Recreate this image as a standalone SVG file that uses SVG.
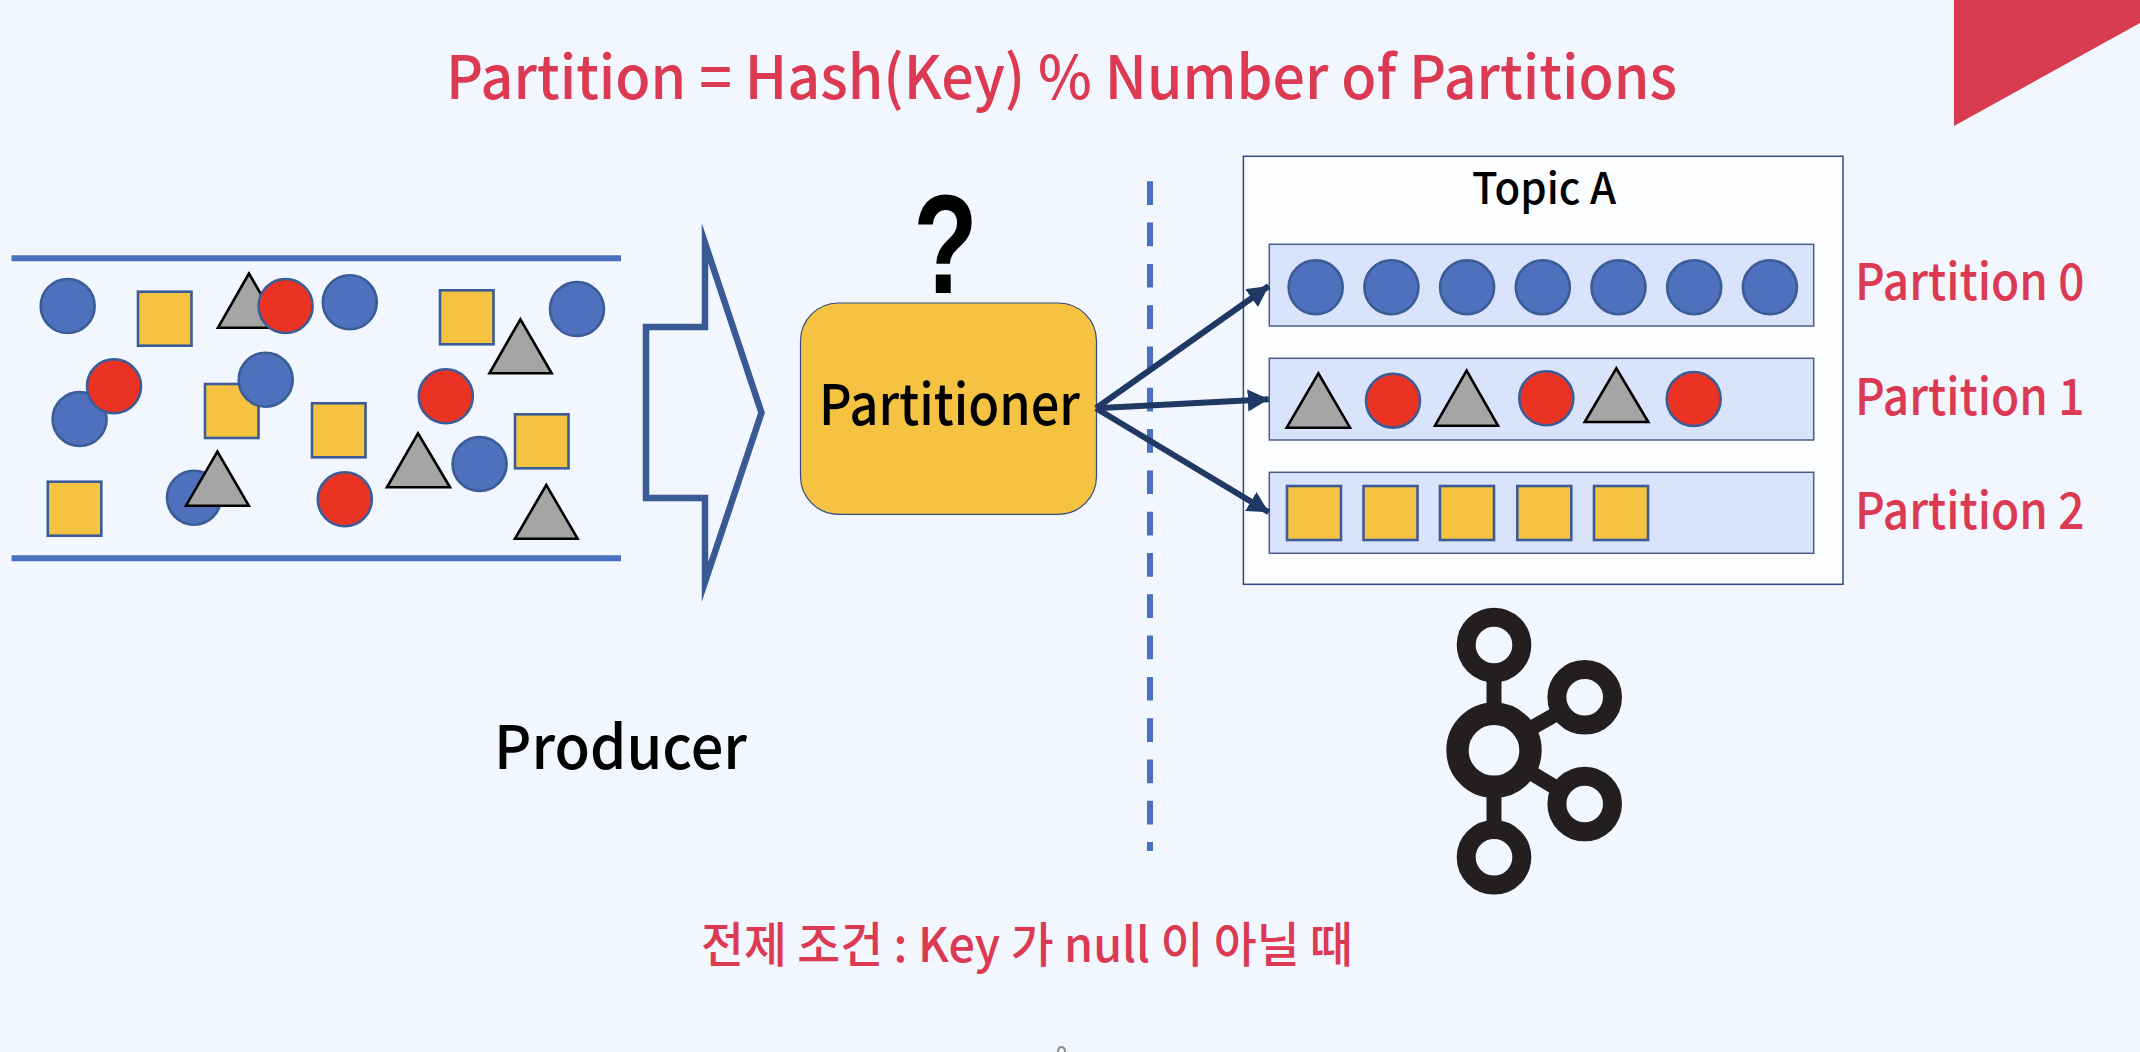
<svg xmlns="http://www.w3.org/2000/svg" width="2140" height="1052" viewBox="0 0 2140 1052">
<defs>
<style>
text{font-family:"Noto Sans CJK KR","Noto Sans",sans-serif;font-weight:500}
.b{fill:#4f70bc;stroke:#3c5c98;stroke-width:2.6}
.r{fill:#ea3323;stroke:#3c5c98;stroke-width:2.6}
.y{fill:#f5c242;stroke:#3c5c98;stroke-width:2.6}
.g{fill:#a5a5a5;stroke:#000;stroke-width:2.6}
.pt{fill:#dc3a52;font-size:50px}
.ring{fill:none;stroke:#231f20}
.lane{fill:#d9e3fb;stroke:#4a5c88;stroke-width:1.5}
.bar{stroke:#4a70c0;stroke-width:6}
.arr{stroke:#1f3864;stroke-width:6;fill:none;marker-end:url(#h)}
</style>
<marker id="h" markerUnits="userSpaceOnUse" markerWidth="24" markerHeight="24" refX="21" refY="11" orient="auto"><path d="M0 0L21 11L0 22z" fill="#1f3864"/></marker>
</defs>
<rect width="2140" height="1052" fill="#f2f6ff"/>
<polygon id="corner" points="1954,0 2140,0 2140,23 1954,126" fill="#d93b50"/>
<text id="title" x="446" y="99" fill="#dc3a52" font-size="60" textLength="1231" lengthAdjust="spacingAndGlyphs">Partition = Hash(Key) % Number of Partitions</text>
<g id="stream">
<line class="bar" x1="11.5" y1="258.3" x2="621" y2="258.3"/>
<line class="bar" x1="11.5" y1="558.3" x2="621" y2="558.3"/>
<circle class="b" cx="67.7" cy="306" r="27"/>
<rect class="y" x="138" y="291.7" width="53.5" height="54"/>
<polygon class="g" points="249,273.5 218,327.7 280,327.7"/>
<circle class="r" cx="285.6" cy="306" r="27"/>
<circle class="b" cx="349.8" cy="302.3" r="27"/>
<rect class="y" x="440" y="290.3" width="53.5" height="54"/>
<circle class="b" cx="577" cy="309" r="27"/>
<polygon class="g" points="520.4,319.3 489.5,373.3 551.7,373.3"/>
<circle class="b" cx="79.6" cy="419" r="27"/>
<circle class="r" cx="114" cy="386.3" r="27"/>
<rect class="y" x="205" y="384" width="53.5" height="54"/>
<circle class="b" cx="265.7" cy="379.7" r="27"/>
<rect class="y" x="312" y="403.3" width="53.5" height="54"/>
<circle class="r" cx="445.8" cy="396.3" r="27"/>
<polygon class="g" points="418,433.3 387,487.3 450,487.3"/>
<circle class="b" cx="479.6" cy="464" r="27"/>
<rect class="y" x="515" y="414.3" width="53.5" height="54"/>
<rect class="y" x="47.8" y="481.7" width="53.5" height="54"/>
<circle class="b" cx="194" cy="497.7" r="27"/>
<polygon class="g" points="217.4,451.7 186,505.7 248.8,505.7"/>
<circle class="r" cx="344.8" cy="499.3" r="27"/>
<polygon class="g" points="546.3,485 515,538.7 577.6,538.7"/>
</g>
<g id="producer-arrow"><polygon points="646,327 705,327 705,243 761.5,412.7 705,582 705,498 646,498" fill="none" stroke="#3a5a94" stroke-width="6.5" stroke-miterlimit="12"/></g>
<g id="producer"><text x="494" y="769" fill="#000" font-size="60" textLength="253" lengthAdjust="spacingAndGlyphs">Producer</text></g>
<g id="question"><text transform="translate(945.5 292.7) scale(.8 1.07)" text-anchor="middle" fill="#000" font-size="132" style="font-family:'Liberation Sans',sans-serif;font-weight:700">?</text></g>
<g id="partitioner">
<rect x="800.5" y="303" width="296" height="211.3" rx="38" fill="#f5c242" stroke="#2f4a80" stroke-width="1.2"/>
<text x="819" y="425" fill="#000" font-size="56" textLength="261" lengthAdjust="spacingAndGlyphs">Partitioner</text>
</g>
<g id="divider"><line x1="1150" y1="181.3" x2="1150" y2="851" stroke="#4a70c0" stroke-width="6" stroke-dasharray="23.7 17.6"/></g>
<g id="topic-a">
<rect x="1243.4" y="156.3" width="599.6" height="428" fill="#fcfdff" stroke="#2f4a80" stroke-width="1.5"/>
<text x="1472" y="204" fill="#000" font-size="43" textLength="144" lengthAdjust="spacingAndGlyphs">Topic A</text>
</g>
<g id="partition-0">
<rect class="lane" x="1269.3" y="244.3" width="544.4" height="81.7"/>
<circle class="b" cx="1315.7" cy="287.3" r="27"/>
<circle class="b" cx="1391.4" cy="287.3" r="27"/>
<circle class="b" cx="1467.1" cy="287.3" r="27"/>
<circle class="b" cx="1542.8" cy="287.3" r="27"/>
<circle class="b" cx="1618.5" cy="287.3" r="27"/>
<circle class="b" cx="1694.2" cy="287.3" r="27"/>
<circle class="b" cx="1769.9" cy="287.3" r="27"/>
<text class="pt" x="1855" y="299.5" textLength="229.5" lengthAdjust="spacingAndGlyphs">Partition 0</text>
</g>
<g id="partition-1">
<rect class="lane" x="1269.3" y="358.3" width="544.4" height="81.7"/>
<polygon class="g" points="1318.4,373.3 1286.7,427.7 1350,427.7"/>
<circle class="r" cx="1393" cy="400.7" r="27"/>
<polygon class="g" points="1466.6,370.7 1435,425.7 1498,425.7"/>
<circle class="r" cx="1546.3" cy="398.3" r="27"/>
<polygon class="g" points="1616.3,368.3 1584.7,422 1648.3,422"/>
<circle class="r" cx="1693.7" cy="399" r="27"/>
<text class="pt" x="1855" y="414.5" textLength="229.5" lengthAdjust="spacingAndGlyphs">Partition 1</text>
</g>
<g id="partition-2">
<rect class="lane" x="1269.3" y="472.3" width="544.4" height="81"/>
<rect class="y" x="1287" y="486" width="54" height="54"/>
<rect class="y" x="1363.5" y="486" width="54" height="54"/>
<rect class="y" x="1440" y="486" width="54" height="54"/>
<rect class="y" x="1517.3" y="486" width="54" height="54"/>
<rect class="y" x="1594" y="486" width="54" height="54"/>
<text class="pt" x="1855" y="529" textLength="229.5" lengthAdjust="spacingAndGlyphs">Partition 2</text>
</g>
<g id="connectors">
<line class="arr" x1="1096" y1="408.3" x2="1268.8" y2="286"/>
<line class="arr" x1="1096" y1="408.3" x2="1268.8" y2="399.3"/>
<line class="arr" x1="1096" y1="408.3" x2="1268.8" y2="512.3"/>
</g>
<g id="kafka-logo">
<g stroke="#231f20" stroke-width="15"><line x1="1494" y1="675" x2="1494" y2="710"/><line x1="1494" y1="790" x2="1494" y2="827"/><line x1="1528" y1="730" x2="1558" y2="713"/><line x1="1528" y1="771" x2="1558" y2="789"/></g>
<circle class="ring" cx="1494" cy="645" r="27.8" stroke-width="19"/>
<circle class="ring" cx="1584.7" cy="697.3" r="27.8" stroke-width="19"/>
<circle class="ring" cx="1584.7" cy="804" r="27.8" stroke-width="19"/>
<circle class="ring" cx="1494" cy="857.3" r="27.8" stroke-width="19"/>
<circle class="ring" cx="1494" cy="750.3" r="36.5" stroke-width="22.4"/>
</g>
<text id="note" x="701" y="962" fill="#dc3a52" font-size="48" textLength="652" lengthAdjust="spacingAndGlyphs">전제 조건 : Key 가 null 이 아닐 때</text>
<path id="bottom-fragment" d="M1058 1052Q1058 1047 1061.5 1047Q1065 1047 1065 1052" fill="none" stroke="#8a8a8a" stroke-width="2"/>
</svg>
